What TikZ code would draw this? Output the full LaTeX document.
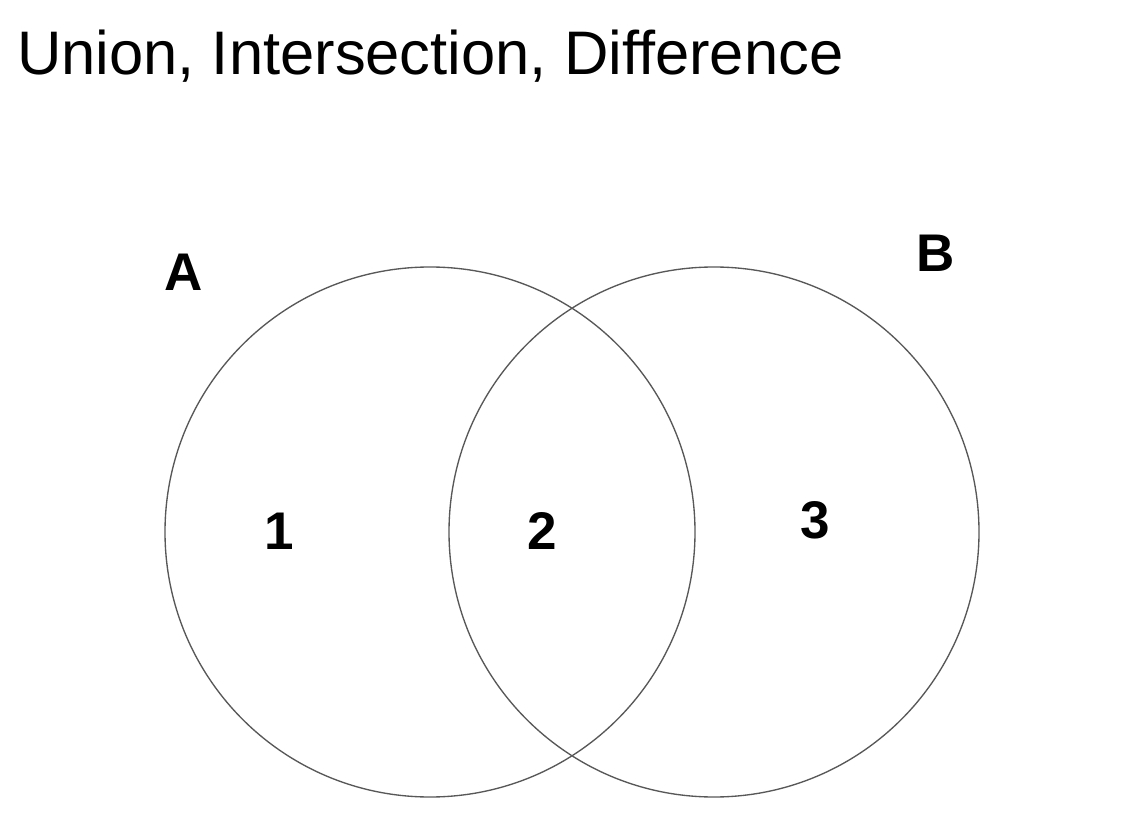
\documentclass[tikz,border=0pt]{standalone}
\usepackage{fontspec}
\setmainfont{Liberation Sans}
\usetikzlibrary{positioning}
\definecolor{vnline}{HTML}{585858}

\begin{document}
\begin{tikzpicture}[x=1pt,y=-1pt,
  setcirc/.style={circle,draw=vnline,line width=1.35pt,minimum size=530pt,inner sep=0pt},
  setlab/.style={font=\fontsize{53}{60}\selectfont\bfseries,inner sep=0pt,anchor=base},
  ttl/.style={font=\fontsize{61.5}{70}\selectfont,inner sep=0pt,anchor=base west}]
\useasboundingbox (0,0) rectangle (1122,834);
\node[ttl] (title) at (17,75) {Union, Intersection, Difference};
\node[setcirc] (setA) at (430,532) {};
\node[setcirc] (setB) at (714,532) {};
\node[setlab] (labA) at (184,291) {A};
\node[setlab] (labB) at (936,272) {B};
\node[setlab] (one) at (279,549) {1};
\node[setlab] (two) at (542,549) {2};
\node[setlab] (three) at (815,538) {3};
\end{tikzpicture}
\end{document}
